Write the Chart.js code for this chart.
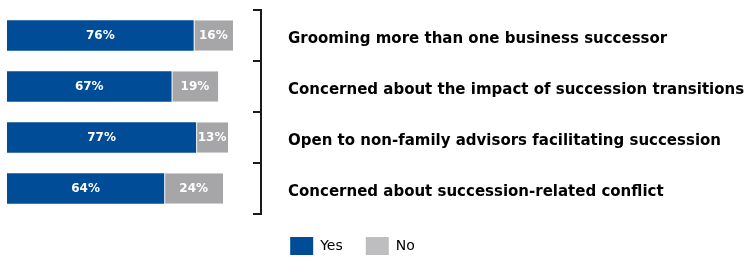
<!DOCTYPE html>
<html>
<head>
<meta charset="utf-8">
<script src="https://cdn.jsdelivr.net/npm/chart.js@4/dist/chart.umd.min.js"></script>
<style>
  html, body { margin: 0; padding: 0; background: #fff; }
  #wrap { width: 750px; height: 257px; }
</style>
</head>
<body>
<div id="wrap"><canvas id="js--chart"></canvas></div>
<script>
// data
const categories = [
  "Grooming more than one business successor",
  "Concerned about the impact of succession transitions",
  "Open to non-family advisors facilitating succession",
  "Concerned about succession-related conflict"
];
const yesValues = [76, 67, 77, 64];
const noValues = [16, 19, 13, 24];

const blue = "#004c97";
const grey = "#a6a6a8";
const greyLegend = "#bebec0";
const labelFont = "'DejaVu Sans', sans-serif";

// white % labels in the middle of each segment
const valueLabels = {
  id: "valueLabels",
  afterDatasetsDraw(chart) {
    const ctx = chart.ctx;
    ctx.save();
    ctx.fillStyle = "#fff";
    ctx.font = "bold 12px " + labelFont;
    ctx.textAlign = "center";
    ctx.textBaseline = "middle";
    chart.data.datasets.forEach((ds, i) => {
      chart.getDatasetMeta(i).data.forEach((bar, j) => {
        const x = (bar.x + bar.base) / 2;
        ctx.fillText(ds.data[j] + "%", x, bar.y);
      });
    });
    ctx.restore();
  }
};

// bracket right of the bars, short ticks between categories
const bracket = {
  id: "bracket",
  afterDraw(chart) {
    const y = chart.scales.y;
    const ctx = chart.ctx;
    const x = chart.chartArea.right + 1;
    const band = y.getPixelForTick(1) - y.getPixelForTick(0);
    const top = y.getPixelForTick(0) - band / 2;
    ctx.save();
    ctx.strokeStyle = "#1a1a1a";
    ctx.lineWidth = 2;
    ctx.beginPath();
    for (let i = 0; i <= categories.length; i++) {
      ctx.moveTo(x - 8, top + band * i);
      ctx.lineTo(x, top + band * i);
    }
    ctx.moveTo(x, top - 1);
    ctx.lineTo(x, top + band * categories.length + 1);
    ctx.stroke();
    ctx.restore();
  }
};

// legend sits a bit left of the canvas centre
const legendShift = {
  id: "legendShift",
  afterLayout(chart) {
    chart.legend.left -= 26;
    chart.legend.right -= 26;
  }
};

const config = {
  type: "bar",
  data: {
    labels: categories,
    datasets: [
      {
        label: "Yes",
        data: yesValues,
        backgroundColor: blue,
        borderWidth: 0
      },
      {
        label: "No",
        data: noValues,
        backgroundColor: grey,
        borderColor: "#fff",
        borderWidth: { left: 1, top: 0, right: 0, bottom: 0 },
        borderSkipped: false
      }
    ]
  },
  options: {
    indexAxis: "y",
    responsive: true,
    maintainAspectRatio: false,
    animation: false,
    categoryPercentage: 1,
    barPercentage: 0.6,
    layout: { padding: { left: 7, right: 0, top: 10, bottom: 0 } },
    scales: {
      x: {
        stacked: true,
        min: 0,
        max: 103,
        display: false
      },
      y: {
        stacked: true,
        position: "right",
        grid: {
          display: true,
          drawOnChartArea: false,
          drawTicks: true,
          tickLength: 28,
          color: "rgba(0,0,0,0)"
        },
        border: { display: false },
        ticks: {
          padding: 0,
          labelOffset: 4,
          color: "#000",
          font: { family: labelFont, size: 15, weight: "bold" }
        },
        afterFit(scale) { scale.width = 490; }
      }
    },
    plugins: {
      legend: {
        position: "bottom",
        maxHeight: 43,
        labels: {
          boxWidth: 23,
          boxHeight: 18,
          padding: 23,
          color: "#000",
          font: { family: labelFont, size: 14 },
          generateLabels(chart) {
            return chart.data.datasets.map((ds, i) => ({
              text: ds.label,
              fillStyle: i === 0 ? blue : greyLegend,
              strokeStyle: "transparent",
              lineWidth: 0,
              datasetIndex: i
            }));
          }
        }
      },
      tooltip: { enabled: false }
    }
  },
  plugins: [valueLabels, bracket, legendShift]
};

const chart1 = new Chart(document.getElementById("js--chart"), config);
</script>
</body>
</html>
